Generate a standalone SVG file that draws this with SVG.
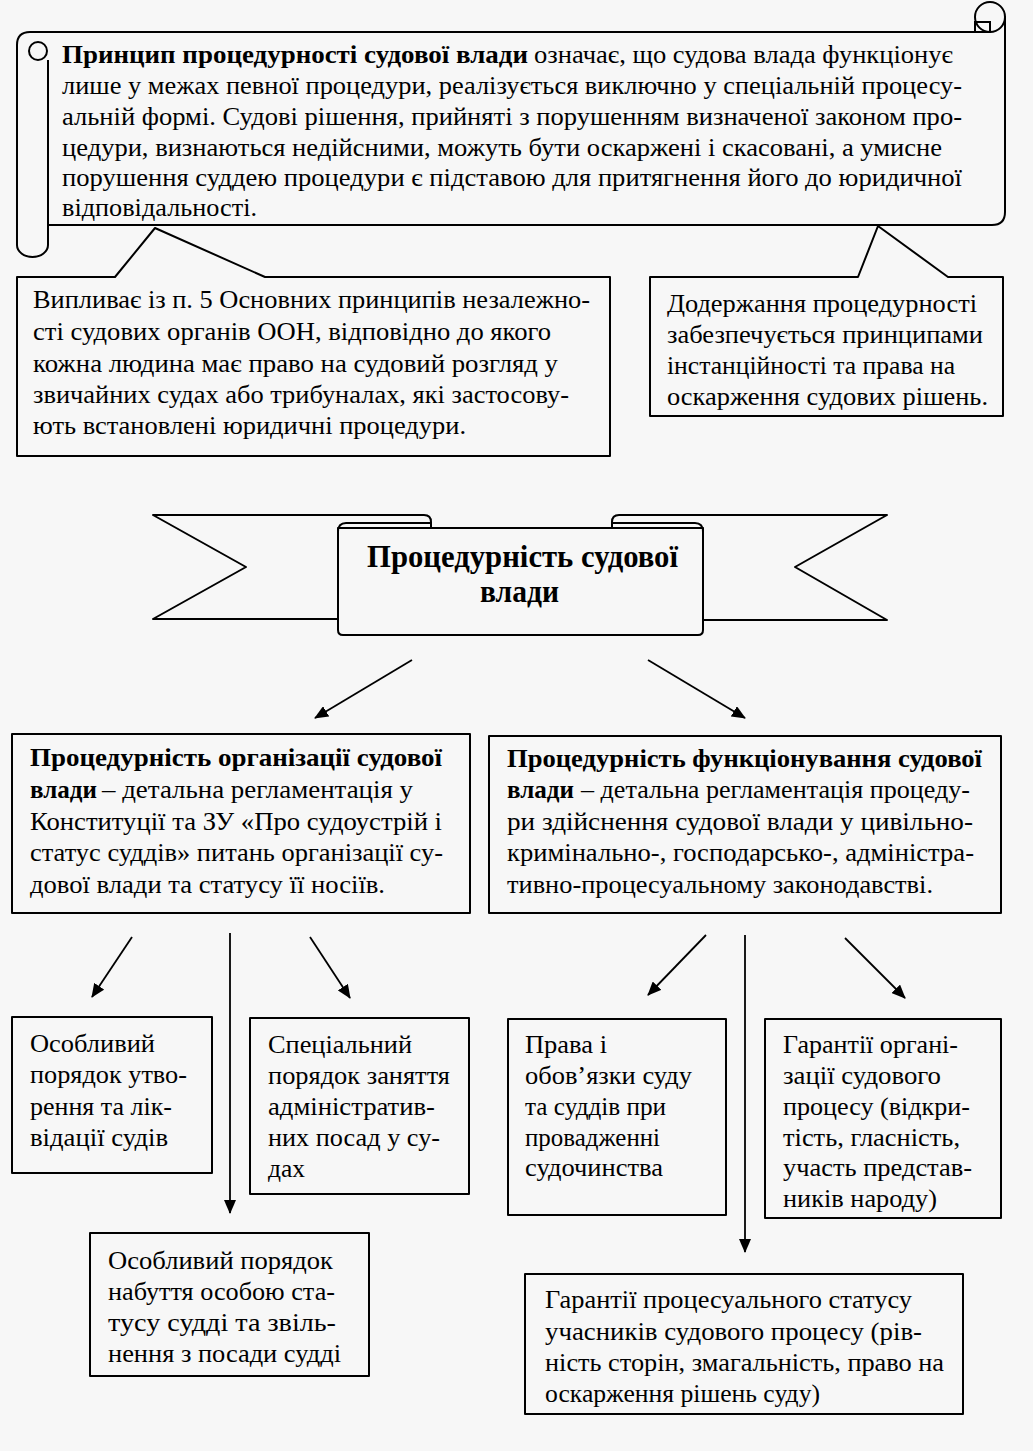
<svg xmlns="http://www.w3.org/2000/svg" width="1033" height="1451" viewBox="0 0 1033 1451">
<defs>
<marker id="ah" markerWidth="14" markerHeight="12" refX="13" refY="6" orient="auto" markerUnits="userSpaceOnUse">
<path d="M0,0 L14,6 L0,12 Z" fill="#000"/>
</marker>
<style>
.s{fill:#f7f7f7;stroke:#000;stroke-width:2;stroke-linejoin:round}
.n{fill:none;stroke:#000;stroke-width:2}
.t{font-family:"Liberation Serif","Times New Roman",Times,serif;font-size:25px;fill:#000}
.b{font-weight:bold}
.h{font-size:31px}
.c{stroke:#000;stroke-width:1.8;fill:none}
</style>
</defs>
<rect width="1033" height="1451" fill="#f7f7f7"/>

<g id="scroll">
<path class="s" d="M17,45 Q17,32 30,32 H990 L1005,17 V212 Q1005,225 992,225 H48 V245 A15.5,12 0 0 1 17,245 Z"/>
<path class="n" d="M48,225 V60"/>
<circle class="s" cx="38" cy="51" r="9"/>
<circle class="s" cx="990" cy="17" r="15"/>
<path class="n" d="M975,33 V22 H990 V33"/>
<text class="t b" x="62" y="63" textLength="466" lengthAdjust="spacingAndGlyphs">Принцип процедурності судової влади</text>
<text class="t" x="534" y="63" textLength="419" lengthAdjust="spacingAndGlyphs">означає, що судова влада функціонує</text>
<text class="t" x="62" y="94" textLength="900" lengthAdjust="spacingAndGlyphs">лише у межах певної процедури, реалізується виключно у спеціальній процесу-</text>
<text class="t" x="62" y="125" textLength="900" lengthAdjust="spacingAndGlyphs">альній формі. Судові рішення, прийняті з порушенням визначеної законом про-</text>
<text class="t" x="62" y="156" textLength="880" lengthAdjust="spacingAndGlyphs">цедури, визнаються недійсними, можуть бути оскаржені і скасовані, а умисне</text>
<text class="t" x="62" y="186" textLength="900" lengthAdjust="spacingAndGlyphs">порушення суддею процедури є підставою для притягнення його до юридичної</text>
<text class="t" x="62" y="216" textLength="195" lengthAdjust="spacingAndGlyphs">відповідальності.</text>
</g>

<g id="note-left">
<path class="s" d="M17,277 H115 L155,228 L265,277 H610 V456 H17 Z"/>
<text class="t" x="33" y="308" textLength="557" lengthAdjust="spacingAndGlyphs">Випливає із п. 5 Основних принципів незалежно-</text>
<text class="t" x="33" y="340" textLength="518" lengthAdjust="spacingAndGlyphs">сті судових органів ООН, відповідно до якого</text>
<text class="t" x="33" y="372" textLength="525" lengthAdjust="spacingAndGlyphs">кожна людина має право на судовий розгляд у</text>
<text class="t" x="33" y="403" textLength="536" lengthAdjust="spacingAndGlyphs">звичайних судах або трибуналах, які застосову-</text>
<text class="t" x="33" y="434" textLength="433" lengthAdjust="spacingAndGlyphs">ють встановлені юридичні процедури.</text>
</g>

<g id="note-right">
<path class="s" d="M650,277 H858 L878,226 L948,277 H1003 V416 H650 Z"/>
<text class="t" x="667" y="312" textLength="310" lengthAdjust="spacingAndGlyphs">Додержання процедурності</text>
<text class="t" x="667" y="343" textLength="316" lengthAdjust="spacingAndGlyphs">забезпечується принципами</text>
<text class="t" x="667" y="374" textLength="288" lengthAdjust="spacingAndGlyphs">інстанційності та права на</text>
<text class="t" x="667" y="405" textLength="321" lengthAdjust="spacingAndGlyphs">оскарження судових рішень.</text>
</g>

<g id="banner">
<path class="s" d="M338,619 H153 L246,567 L153,515 H424 Q431,515 431,522 V530 H338 Z"/>
<path class="s" d="M703,620 H887 L795,567 L887,515 H619 Q612,515 612,522 V530 H703 Z"/>
<path class="s" d="M338,528 H703 V630 Q703,635 698,635 H343 Q338,635 338,630 Z"/>
<path class="n" d="M338,532 Q338,523 346,523 H431"/>
<path class="n" d="M612,523 H695 Q703,523 703,532"/>
<text class="t b h" x="367" y="567" textLength="311" lengthAdjust="spacingAndGlyphs">Процедурність судової</text>
<text class="t b h" x="480" y="602" textLength="79" lengthAdjust="spacingAndGlyphs">влади</text>
</g>

<g id="org">
<rect class="s" x="12" y="734" width="458" height="179"/>
<text class="t b" x="30" y="766" textLength="412" lengthAdjust="spacingAndGlyphs">Процедурність організації судової</text>
<text class="t b" x="30" y="798" textLength="67" lengthAdjust="spacingAndGlyphs">влади</text>
<text class="t" x="102" y="798" textLength="311" lengthAdjust="spacingAndGlyphs">– детальна регламентація у</text>
<text class="t" x="30" y="830" textLength="412" lengthAdjust="spacingAndGlyphs">Конституції та ЗУ «Про судоустрій і</text>
<text class="t" x="30" y="861" textLength="413" lengthAdjust="spacingAndGlyphs">статус суддів» питань організації су-</text>
<text class="t" x="30" y="893" textLength="355" lengthAdjust="spacingAndGlyphs">дової влади та статусу її носіїв.</text>
</g>

<g id="func">
<rect class="s" x="489" y="736" width="512" height="177"/>
<text class="t b" x="507" y="767" textLength="475" lengthAdjust="spacingAndGlyphs">Процедурність функціонування судової</text>
<text class="t b" x="507" y="798" textLength="67" lengthAdjust="spacingAndGlyphs">влади</text>
<text class="t" x="581" y="798" textLength="389" lengthAdjust="spacingAndGlyphs">– детальна регламентація процеду-</text>
<text class="t" x="507" y="830" textLength="466" lengthAdjust="spacingAndGlyphs">ри здійснення судової влади у  цивільно-</text>
<text class="t" x="507" y="861" textLength="467" lengthAdjust="spacingAndGlyphs">кримінально-, господарсько-, адміністра-</text>
<text class="t" x="507" y="893" textLength="426" lengthAdjust="spacingAndGlyphs">тивно-процесуальному законодавстві.</text>
</g>

<g id="o1">
<rect class="s" x="12" y="1017" width="200" height="156"/>
<text class="t" x="30" y="1052" textLength="125" lengthAdjust="spacingAndGlyphs">Особливий</text>
<text class="t" x="30" y="1083" textLength="157" lengthAdjust="spacingAndGlyphs">порядок утво-</text>
<text class="t" x="30" y="1115" textLength="142" lengthAdjust="spacingAndGlyphs">рення та лік-</text>
<text class="t" x="30" y="1146" textLength="138" lengthAdjust="spacingAndGlyphs">відації судів</text>
</g>

<g id="o2">
<rect class="s" x="250" y="1018" width="219" height="176"/>
<text class="t" x="268" y="1053" textLength="144" lengthAdjust="spacingAndGlyphs">Спеціальний</text>
<text class="t" x="268" y="1084" textLength="182" lengthAdjust="spacingAndGlyphs">порядок заняття</text>
<text class="t" x="268" y="1115" textLength="167" lengthAdjust="spacingAndGlyphs">адміністратив-</text>
<text class="t" x="268" y="1146" textLength="172" lengthAdjust="spacingAndGlyphs">них посад у су-</text>
<text class="t" x="268" y="1177" textLength="37" lengthAdjust="spacingAndGlyphs">дах</text>
</g>

<g id="o3">
<rect class="s" x="90" y="1233" width="279" height="143"/>
<text class="t" x="108" y="1269" textLength="225" lengthAdjust="spacingAndGlyphs">Особливий порядок</text>
<text class="t" x="108" y="1300" textLength="227" lengthAdjust="spacingAndGlyphs">набуття особою ста-</text>
<text class="t" x="108" y="1331" textLength="228" lengthAdjust="spacingAndGlyphs">тусу судді та звіль-</text>
<text class="t" x="108" y="1362" textLength="233" lengthAdjust="spacingAndGlyphs">нення з посади судді</text>
</g>

<g id="f1">
<rect class="s" x="508" y="1019" width="218" height="196"/>
<text class="t" x="525" y="1053" textLength="82" lengthAdjust="spacingAndGlyphs">Права і</text>
<text class="t" x="525" y="1084" textLength="167" lengthAdjust="spacingAndGlyphs">обов’язки суду</text>
<text class="t" x="525" y="1115" textLength="141" lengthAdjust="spacingAndGlyphs">та суддів при</text>
<text class="t" x="525" y="1146" textLength="135" lengthAdjust="spacingAndGlyphs">провадженні</text>
<text class="t" x="525" y="1176" textLength="138" lengthAdjust="spacingAndGlyphs">судочинства</text>
</g>

<g id="f2">
<rect class="s" x="765" y="1019" width="236" height="199"/>
<text class="t" x="783" y="1053" textLength="175" lengthAdjust="spacingAndGlyphs">Гарантії органі-</text>
<text class="t" x="783" y="1084" textLength="158" lengthAdjust="spacingAndGlyphs">зації судового</text>
<text class="t" x="783" y="1115" textLength="187" lengthAdjust="spacingAndGlyphs">процесу (відкри-</text>
<text class="t" x="783" y="1146" textLength="177" lengthAdjust="spacingAndGlyphs">тість, гласність,</text>
<text class="t" x="783" y="1176" textLength="189" lengthAdjust="spacingAndGlyphs">участь представ-</text>
<text class="t" x="783" y="1207" textLength="154" lengthAdjust="spacingAndGlyphs">ників народу)</text>
</g>

<g id="f3">
<rect class="s" x="525" y="1274" width="438" height="140"/>
<text class="t" x="545" y="1308" textLength="367" lengthAdjust="spacingAndGlyphs">Гарантії процесуального статусу</text>
<text class="t" x="545" y="1340" textLength="377" lengthAdjust="spacingAndGlyphs">учасників судового процесу (рів-</text>
<text class="t" x="545" y="1371" textLength="399" lengthAdjust="spacingAndGlyphs">ність сторін, змагальність, право на</text>
<text class="t" x="545" y="1402" textLength="275" lengthAdjust="spacingAndGlyphs">оскарження рішень суду)</text>
</g>

<g id="connectors">
<line class="c" x1="412" y1="660" x2="315" y2="718" marker-end="url(#ah)"/>
<line class="c" x1="648" y1="660" x2="745" y2="718" marker-end="url(#ah)"/>
<line class="c" x1="132" y1="937" x2="92" y2="997" marker-end="url(#ah)"/>
<line class="c" x1="230" y1="933" x2="230" y2="1213" marker-end="url(#ah)"/>
<line class="c" x1="310" y1="937" x2="350" y2="998" marker-end="url(#ah)"/>
<line class="c" x1="706" y1="935" x2="648" y2="995" marker-end="url(#ah)"/>
<line class="c" x1="745" y1="935" x2="745" y2="1252" marker-end="url(#ah)"/>
<line class="c" x1="845" y1="938" x2="905" y2="998" marker-end="url(#ah)"/>
</g>
</svg>
